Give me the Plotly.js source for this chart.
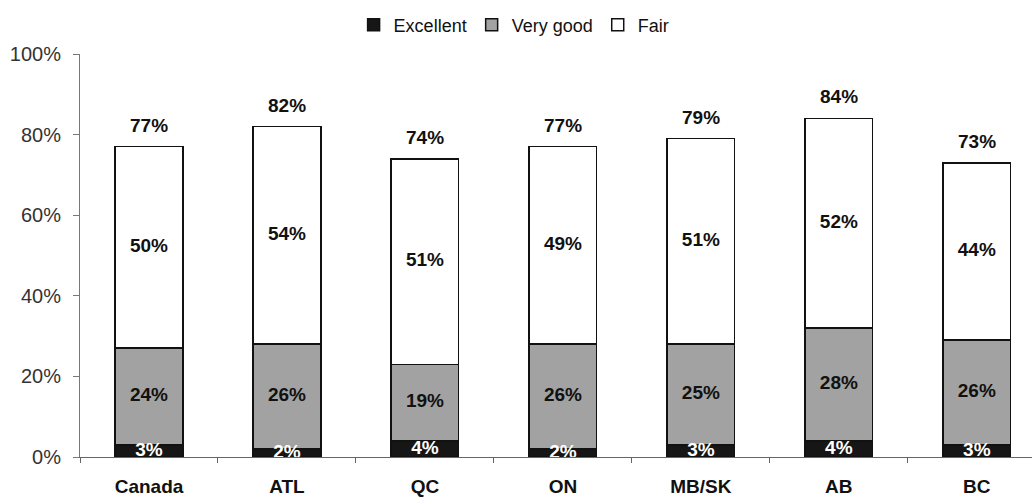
<!DOCTYPE html>
<html>
<head>
<meta charset="utf-8">
<script src="https://cdn.plot.ly/plotly-3.0.1.min.js"></script>
<style>html,body{margin:0;padding:0;background:#fff;}#chart{width:1032px;height:498px;}</style>
</head>
<body>
<div id="chart"></div>
<script>
const categories = ["Canada", "ATL", "QC", "ON", "MB/SK", "AB", "BC"];
const excellent = [3, 2, 4, 2, 3, 4, 3];
const veryGood = [24, 26, 19, 26, 25, 28, 26];
const fair = [50, 54, 51, 49, 51, 52, 44];
const totals = [77, 82, 74, 77, 79, 84, 73];
const yTickValues = [0, 20, 40, 60, 80, 100];
const yTickLabels = ["0%", "20%", "40%", "60%", "80%", "100%"];

const FONT = "Liberation Sans, Arial, sans-serif";
const barWidth = 0.49;
const pct = v => v + "%";

const excMid = excellent.map(v => v / 2);
const vgMid = veryGood.map((v, i) => excellent[i] + v / 2);
const fairMid = fair.map((v, i) => excellent[i] + veryGood[i] + v / 2);

function barTrace(name, vals, color) {
  return {
    type: "bar", name: name, x: categories, y: vals, width: barWidth,
    marker: {color: color, line: {color: "#111", width: 1.5}},
    hoverinfo: "skip"
  };
}
function textTrace(ys, vals, color) {
  return {
    type: "scatter", mode: "text", x: categories, y: ys,
    text: vals.map(pct), textposition: "middle center",
    textfont: {family: FONT, size: 19, color: color, weight: "bold"},
    showlegend: false, hoverinfo: "skip", cliponaxis: false
  };
}

const data = [
  barTrace("Excellent", excellent, "#161616"),
  barTrace("Very good", veryGood, "#a2a2a2"),
  barTrace("Fair", fair, "#ffffff"),
  textTrace(excMid, excellent, "#ffffff"),
  textTrace(vgMid, veryGood, "#111111"),
  textTrace(fairMid, fair, "#111111")
];

const annotations = categories.map((c, i) => ({
  x: c, y: totals[i], xref: "x", yref: "y", text: "<b>" + pct(totals[i]) + "</b>",
  showarrow: false, yanchor: "bottom", yshift: 9,
  font: {family: FONT, size: 19, color: "#111"}
}));

const layout = {
  width: 1032, height: 498,
  margin: {l: 80, r: 0, t: 54, b: 41},
  paper_bgcolor: "#fff", plot_bgcolor: "#fff",
  barmode: "stack",
  showlegend: true,
  legend: {
    orientation: "h", x: 0.456, xanchor: "center", y: 1.072, yanchor: "middle",
    font: {family: FONT, size: 18, color: "#111"}, traceorder: "normal",
    itemwidth: 30
  },
  xaxis: {
    type: "category", range: [-0.5, 6.4],
    showline: true, linecolor: "#666", linewidth: 1,
    ticks: "outside", tickson: "boundaries", ticklen: 5, tickcolor: "#666",
    showgrid: false, zeroline: false,
    tickfont: {family: FONT, size: 19, color: "#111", weight: "bold"},
    ticklabelstandoff: 12
  },
  yaxis: {
    range: [0, 100], tickvals: yTickValues, ticktext: yTickLabels,
    showline: true, linecolor: "#777", linewidth: 1,
    ticks: "outside", ticklen: 6, tickcolor: "#777",
    showgrid: false, zeroline: false,
    tickfont: {family: FONT, size: 20, color: "#333"},
    ticklabelstandoff: 8
  },
  annotations: annotations
};

Plotly.newPlot("chart", data, layout, {displayModeBar: false, staticPlot: true});
</script>
</body>
</html>
